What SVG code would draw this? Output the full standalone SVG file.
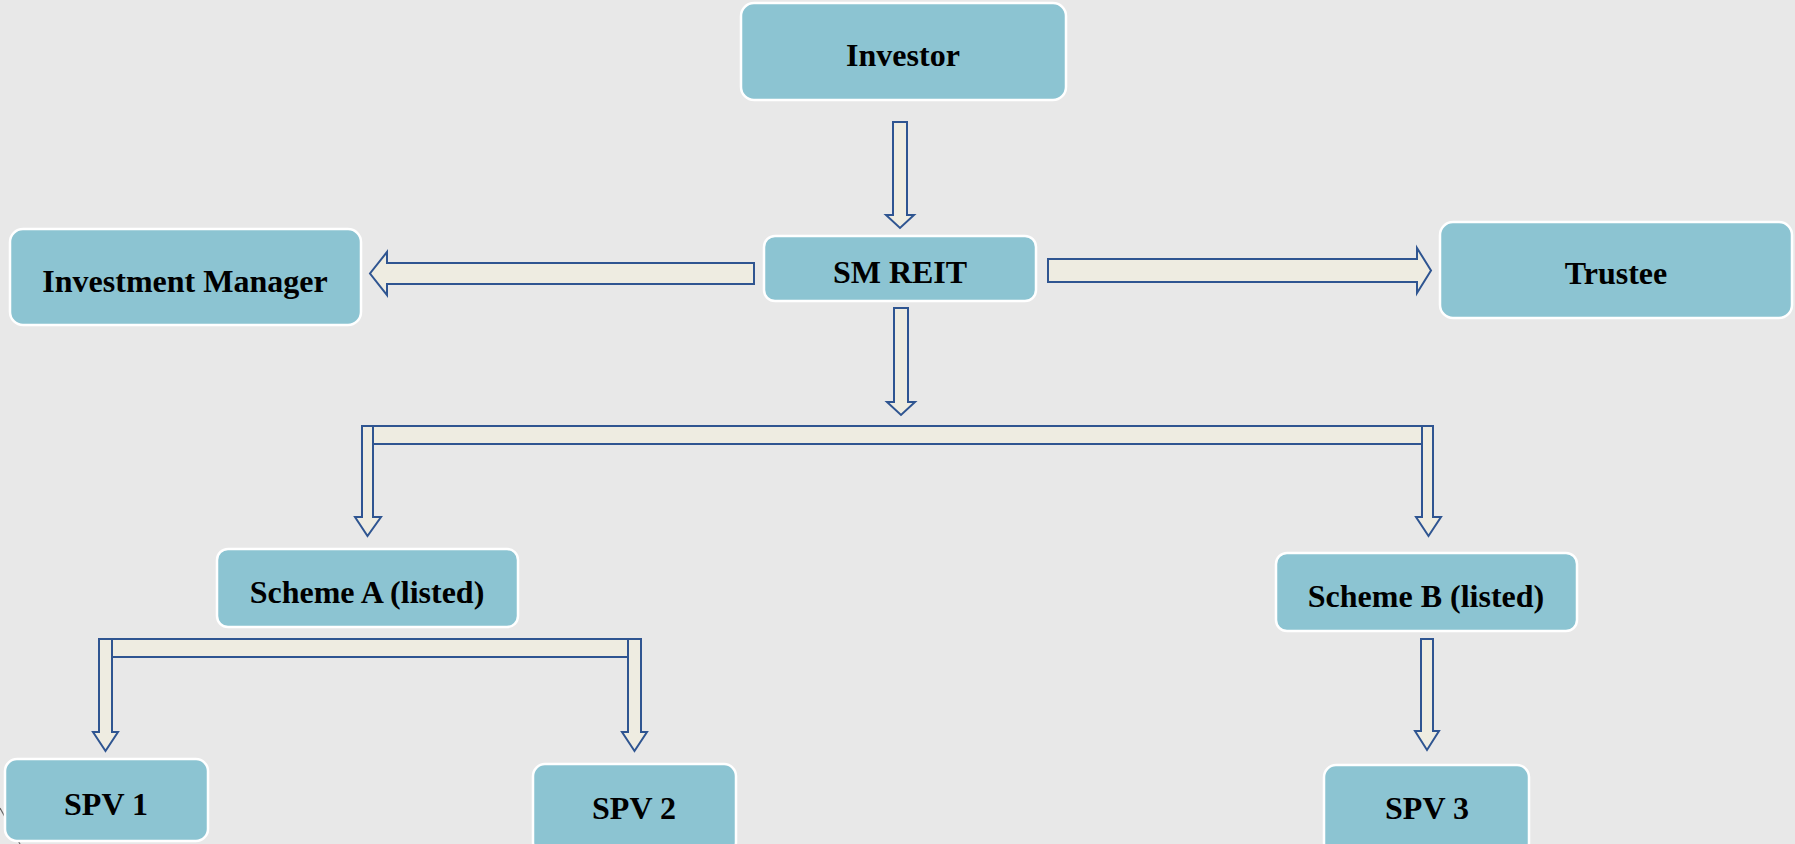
<svg xmlns="http://www.w3.org/2000/svg" width="1795" height="844" viewBox="0 0 1795 844">
<style>
.box{fill:#8cc4d2;stroke:#ffffff;stroke-width:2.5}
.lbl{font-family:"Liberation Serif","Times New Roman",serif;font-weight:bold;font-size:32px;fill:#000;text-anchor:middle}
.arr{fill:#eeece1;stroke:#2f5591;stroke-width:2;stroke-linejoin:miter}
</style>
<rect width="1795" height="844" fill="#e8e8e8"/>
<path d="M0,808 L20,844" stroke="#666" stroke-width="1.2" fill="none"/>
<g id="connectors">
<path class="arr" d="M893,122 H907 V215 H914 L900,228 L886,215 H893 Z"/>
<path class="arr" d="M754,263 V284 H387 V295 L370,273.5 L387,252 V263 Z"/>
<path class="arr" d="M1048,259 H1417 V248 L1431,270.5 L1417,293 V282 H1048 Z"/>
<path class="arr" d="M894,308 H908 V402 H915 L901,415 L887,402 H894 Z"/>
<rect class="arr" x="362" y="426" width="1071" height="18"/>
<path class="arr" d="M362,426 H373 V517 H381 L367.5,536 L355,517 H362 Z"/>
<path class="arr" d="M1422,426 H1433 V517 H1441 L1428.5,536 L1416,517 H1422 Z"/>
<rect class="arr" x="99" y="639" width="542" height="18"/>
<path class="arr" d="M99,639 H112 V732 H118 L105.5,751 L93,732 H99 Z"/>
<path class="arr" d="M628,639 H641 V732 H647 L634.5,751 L622,732 H628 Z"/>
<path class="arr" d="M1421,639 H1433 V731 H1439 L1427,750 L1415,731 H1421 Z"/>
</g>
<g id="investor"><rect class="box" x="741" y="3" width="325" height="97" rx="13"/><text class="lbl" x="903" y="66">Investor</text></g>
<g id="investment-manager"><rect class="box" x="10" y="229" width="351" height="96" rx="13"/><text class="lbl" x="185" y="292">Investment Manager</text></g>
<g id="sm-reit"><rect class="box" x="764" y="236" width="272" height="65" rx="11"/><text class="lbl" x="900" y="283">SM REIT</text></g>
<g id="trustee"><rect class="box" x="1440" y="222" width="352" height="96" rx="13"/><text class="lbl" x="1616" y="284">Trustee</text></g>
<g id="scheme-a"><rect class="box" x="217" y="549" width="301" height="78" rx="11"/><text class="lbl" x="367" y="603">Scheme A (listed)</text></g>
<g id="scheme-b"><rect class="box" x="1276" y="553" width="301" height="78" rx="11"/><text class="lbl" x="1426" y="607">Scheme B (listed)</text></g>
<g id="spv1"><rect class="box" x="5" y="759" width="203" height="82" rx="12"/><text class="lbl" x="106" y="815">SPV 1</text></g>
<g id="spv2"><rect class="box" x="533" y="764" width="203" height="90" rx="12"/><text class="lbl" x="634" y="819">SPV 2</text></g>
<g id="spv3"><rect class="box" x="1324" y="765" width="205" height="90" rx="12"/><text class="lbl" x="1427" y="819">SPV 3</text></g>
</svg>
